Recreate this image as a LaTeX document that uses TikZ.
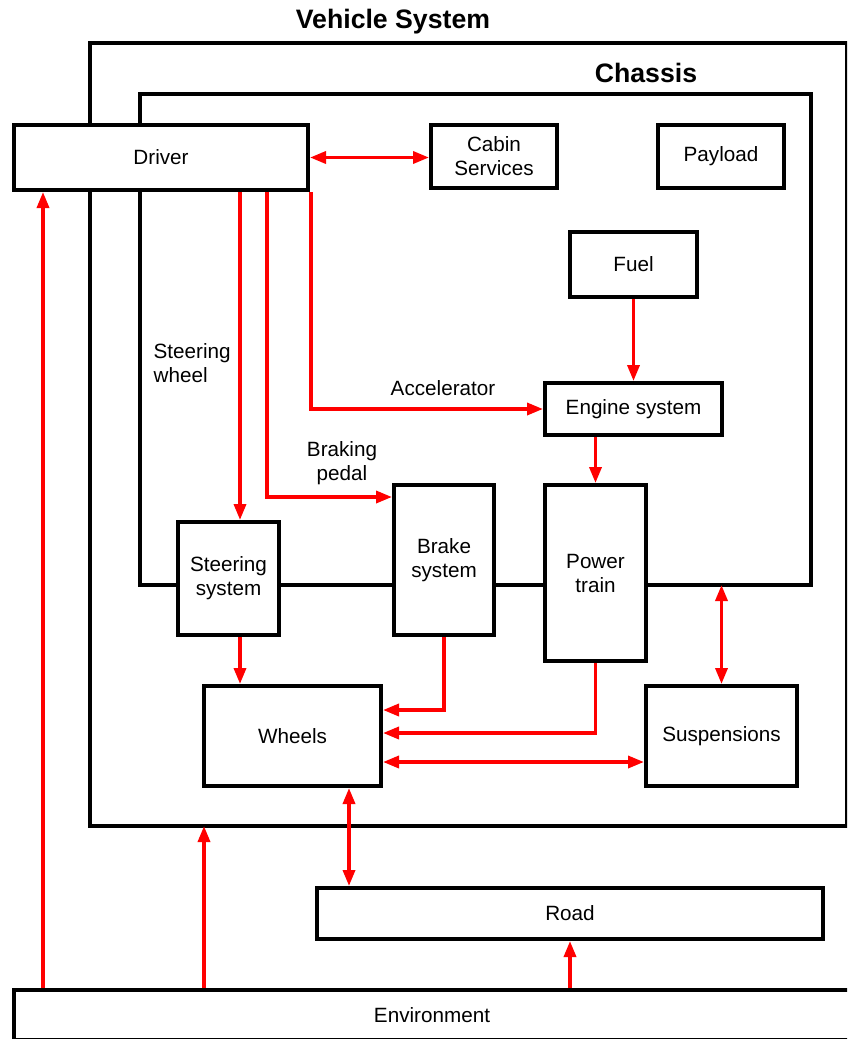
\documentclass[tikz,border=0pt]{standalone}
\usepackage{fontspec}
\setmainfont{Liberation Sans}
\usetikzlibrary{arrows.meta,positioning}

\begin{document}
\begin{tikzpicture}[x=0.75pt,y=-0.75pt,
    frame/.style={line width=3pt},
    block/.style={draw,frame,fill=white,inner sep=0pt,align=center,font=\fontsize{15.5}{18}\selectfont},
    blocksize/.style 2 args={minimum width=#1*0.75pt,minimum height=#2*0.75pt},
    lbl/.style={align=center,font=\fontsize{15.5}{18}\selectfont},
    title/.style={font=\fontsize{20}{24}\selectfont\bfseries},
    link/.style={red,line width=2.6pt,-{Triangle[length=12pt,width=9pt]}},
    dlink/.style={link,{Triangle[length=12pt,width=9pt]}-{Triangle[length=12pt,width=9pt]}}]

\useasboundingbox (0,0) rectangle (847,1039);
\clip (0,0) rectangle (847,1039);

\coordinate (vsbl) at (90,826);
\coordinate (chbr) at (811,585);
\coordinate (xsw) at (240,0);
\coordinate (xbp) at (267,0);
\coordinate (xacc) at (311,0);
\coordinate (xwr) at (349,0);
\coordinate (xev) at (204,0);
\coordinate (xed) at (43,0);
\coordinate (ybp) at (0,497);
\coordinate (ybw) at (0,710);
\coordinate (ypw) at (0,733);
\coordinate (yws) at (0,762);

\node[title] (vstitle) at (393,22) {Vehicle System};
\draw[frame] (vsbl) -- (90,43) -- (847,43) -- (847,826) -- cycle;

\node[title] (chtitle) at (646,73) {Chassis};
\draw[frame] (140,94) rectangle (chbr);

\node[block,blocksize={294}{65}] (driver) at (161,157.5) {Driver};
\node[block,blocksize={126}{63}] (cabin) at (494,156.5) {Cabin\\Services};
\node[block,blocksize={126}{63}] (payload) at (721,156.5) {Payload};
\node[block,blocksize={127}{65}] (fuel) at (633.5,264.5) {Fuel};
\node[block,blocksize={177}{52}] (engine) at (633.5,409) {Engine system};
\node[block,blocksize={101}{113}] (steer) at (228.5,578.5) {Steering\\system};
\node[block,blocksize={100}{150}] (brake) at (444,560) {Brake\\system};
\node[block,blocksize={101}{176}] (power) at (595.5,573) {Power\\train};
\node[block,blocksize={177}{100}] (wheels) at (292.5,736) {Wheels};
\node[block,blocksize={151}{100}] (susp) at (721.5,736) {Suspensions};
\node[block,blocksize={506}{51}] (road) at (570,913.5) {Road};
\node[block,blocksize={836}{50}] (env) at (432,1015) {Environment};

\node[lbl,anchor=west,align=left] (swlbl) at (149,363) {Steering\\wheel};
\node[lbl] (bplbl) at (342,463) {Braking\\pedal};
\node[lbl] (acclbl) at (443,388) {Accelerator};

\draw[dlink] (driver.east) -- (cabin.west |- driver.east);
\draw[link] (driver.south -| xsw) -- (steer.north -| xsw);
\draw[link] (driver.south -| xbp) |- (brake.west |- ybp);
\draw[link] (driver.south -| xacc) |- (engine.west);
\draw[link] (fuel.south) -- (engine.north);
\draw[link] (engine.south -| power.north) -- (power.north);
\draw[link] (steer.south -| xsw) -- (wheels.north -| xsw);
\draw[link] (brake.south) |- (wheels.east |- ybw);
\draw[link] (power.south) |- (wheels.east |- ypw);
\draw[dlink] (wheels.east |- yws) -- (susp.west |- yws);
\draw[dlink] (chbr -| susp.north) -- (susp.north);
\draw[dlink] (wheels.south -| xwr) -- (road.north -| xwr);
\draw[link] (env.north -| road.south) -- (road.south);
\draw[link] (env.north -| xev) -- (vsbl -| xev);
\draw[link] (env.north -| xed) -- (driver.south -| xed);

\end{tikzpicture}
\end{document}
